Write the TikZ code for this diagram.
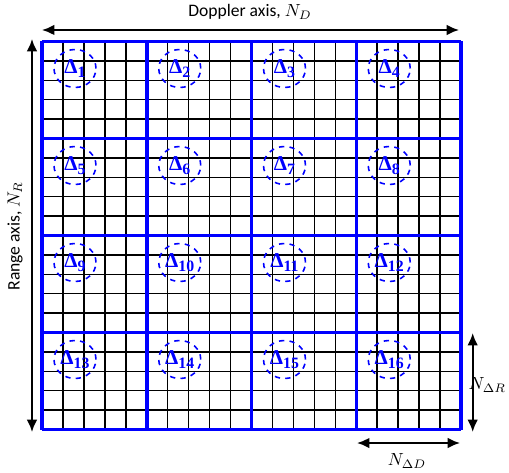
\documentclass[tikz,border=0pt]{standalone}
\usepackage{amsmath}
\usepackage{fontspec}
\setmainfont{Carlito}
\newfontfamily\deltafont{Liberation Serif}
\usetikzlibrary{positioning, shapes.geometric, arrows.meta}
\tikzset{
    cellline/.style={draw, black, line width=0.9pt},
    blockline/.style={draw, blue, line width=2pt},
    subbox/.style={ellipse, draw, blue, dashed, line width=0.9pt, minimum width=0.84cm, minimum height=0.76cm, inner sep=0pt, text=blue, font=\deltafont\bfseries},
    axisarrow/.style={{Latex[length=7pt,width=6pt]}-{Latex[length=7pt,width=6pt]}, black, line width=1.1pt},
    axislabel/.style={font=\fontsize{10}{12}\selectfont, inner sep=1pt}
}
\newcommand{\sublabel}[1]{{\fontsize{12}{12}\selectfont Δ}\raisebox{-0.45ex}{\fontsize{9}{9}\selectfont #1}}

\begin{document}
\begin{tikzpicture}[x=0.02cm, y=-0.02cm]
    \useasboundingbox (0,0) rectangle (509,472);
    % Fine grid (20 x 20 cells)
    \foreach \i in {0,...,20} {
        \draw [cellline] (42+\i*20.95,41.5) -- (42+\i*20.95,429.5);
        \draw [cellline] (42,41.5+\i*19.4) -- (461,41.5+\i*19.4);
    }
    % Block borders (4 x 4 blocks)
    \foreach \i in {0,...,4} {
        \draw [blockline] (42+\i*104.75,41.5) -- (42+\i*104.75,429.5);
        \draw [blockline] (42,41.5+\i*97) -- (461,41.5+\i*97);
    }
    % Sub-block labels
    \foreach \r in {0,...,3} {
        \foreach \c in {0,...,3} {
            \pgfmathtruncatemacro{\k}{4*\r+\c+1}
            \node [subbox] (d\k) at (75+\c*104.75, 68.5+\r*97) {\sublabel{\k}};
        }
    }
    % Axis arrows
    \coordinate (dopL) at (42,30);
    \coordinate (dopR) at (459,30);
    \coordinate (rngT) at (32,39);
    \coordinate (rngB) at (32,432);
    \coordinate (subT) at (472.7,333);
    \coordinate (subB) at (472.7,432);
    \coordinate (subL) at (357,443);
    \coordinate (subR) at (460,443);
    \draw [axisarrow] (dopL) -- (dopR);
    \draw [axisarrow] (rngT) -- (rngB);
    \draw [axisarrow] (subT) -- (subB);
    \draw [axisarrow] (subL) -- (subR);
    % Axis labels
    \node [axislabel] (doplabel) at (250,12) {Doppler axis, $N_D$};
    \node [axislabel, rotate=90] (rnglabel) at (15,236) {Range axis, $N_R$};
    \node [axislabel, anchor=east] (rlabel) at (508,385) {$N_{\Delta R}$};
    \node [axislabel] (dlabel) at (407,461) {$N_{\Delta D}$};
\end{tikzpicture}
\end{document}
